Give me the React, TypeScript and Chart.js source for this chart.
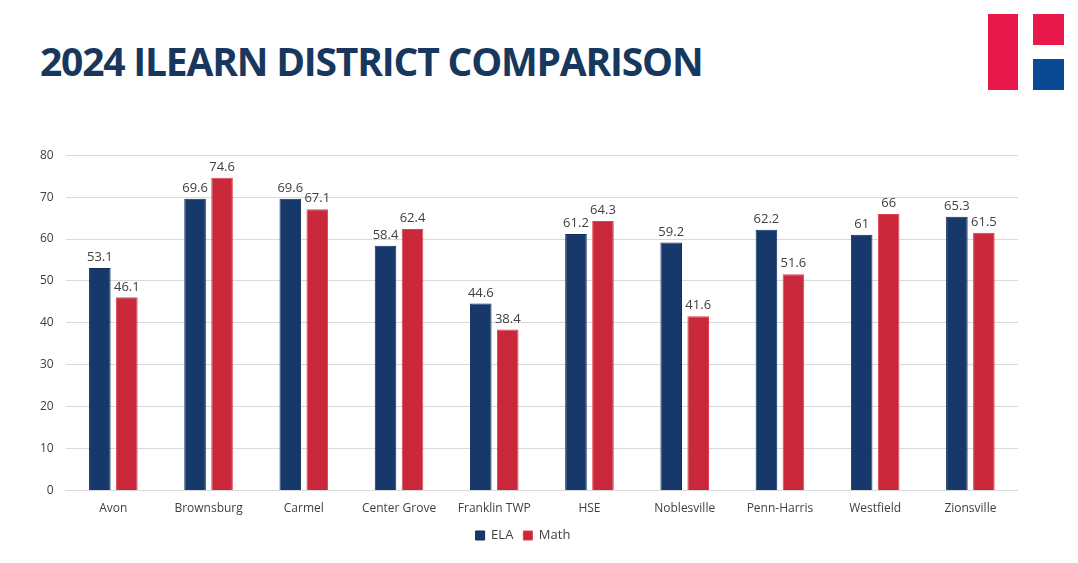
import React, { useEffect, useRef } from "react";
import { Chart, registerables } from "chart.js";

Chart.register(...registerables);

const categories = ["Avon", "Brownsburg", "Carmel", "Center Grove", "Franklin TWP", "HSE", "Noblesville", "Penn-Harris", "Westfield", "Zionsville"];
const elaValues = [53.1, 69.6, 69.6, 58.4, 44.6, 61.2, 59.2, 62.2, 61, 65.3];
const mathValues = [46.1, 74.6, 67.1, 62.4, 38.4, 64.3, 41.6, 51.6, 66, 61.5];
const yTicks = [0, 10, 20, 30, 40, 50, 60, 70, 80];

const FONT = "'Open Sans', 'Noto Sans', sans-serif";

const labelPlugin = {
  id: "barLabels",
  afterDatasetsDraw(chart: any) {
    const ctx = chart.ctx;
    ctx.save();
    ctx.font = `13px ${FONT}`;
    ctx.fillStyle = "#404040";
    ctx.textAlign = "center";
    ctx.textBaseline = "bottom";
    chart.data.datasets.forEach((ds: any, i: number) => {
      const meta = chart.getDatasetMeta(i);
      meta.data.forEach((bar: any, j: number) => {
        ctx.fillText(String(ds.data[j]), bar.x, bar.y - 4);
      });
    });
    ctx.restore();
  },
};

export default function App() {
  const ref = useRef<HTMLCanvasElement | null>(null);
  useEffect(() => {
    document.body.style.margin = "0";
    const chart = new Chart(ref.current!, {
      type: "bar",
      data: {
        labels: categories,
        datasets: [
          { label: "ELA", data: elaValues, backgroundColor: "#17386B", borderColor: "#0F2C5A", borderWidth: 1 },
          { label: "Math", data: mathValues, backgroundColor: "#C82839", borderColor: "#E04050", borderWidth: 1 },
        ],
      },
      options: {
        responsive: false,
        animation: false,
        maintainAspectRatio: false,
        datasets: { bar: { categoryPercentage: 0.567, barPercentage: 0.8 } },
        layout: { padding: { top: 6, right: 0, left: 0, bottom: 0 } },
        scales: {
          x: {
            grid: { display: false },
            border: { color: "#D9D9D9" },
            ticks: { color: "#404040", font: { family: FONT, size: 12 }, padding: 3 },
          },
          y: {
            min: 0,
            max: 80,
            afterBuildTicks: (axis: any) => {
              axis.ticks = yTicks.map((v) => ({ value: v }));
            },
            grid: { color: "#D9D9D9", drawTicks: false },
            border: { display: false },
            ticks: { color: "#404040", font: { family: FONT, size: 12 }, padding: 12 },
          },
        },
        plugins: {
          legend: {
            position: "bottom",
            labels: { boxWidth: 9, boxHeight: 9, color: "#404040", font: { family: FONT, size: 13 }, padding: 10 },
          },
          tooltip: { enabled: false },
        },
      },
      plugins: [labelPlugin],
    });
    return () => chart.destroy();
  }, []);

  return (
    <div style={{ position: "relative", width: 1078, height: 563, background: "#fff", overflow: "hidden" }}>
      <div
        style={{
          position: "absolute",
          left: 40,
          top: 37,
          fontFamily: "'Open Sans', sans-serif",
          fontWeight: 700,
          fontSize: 39,
          letterSpacing: -1.2,
          color: "#17375E",
          whiteSpace: "nowrap",
          lineHeight: "48px",
        }}
      >
        2024 ILEARN DISTRICT COMPARISON
      </div>
      <div style={{ position: "absolute", left: 988, top: 14, width: 30, height: 76, background: "#E8194A" }} />
      <div style={{ position: "absolute", left: 1033, top: 14, width: 31, height: 31, background: "#E8194A" }} />
      <div style={{ position: "absolute", left: 1033, top: 59, width: 31, height: 31, background: "#0A4A94" }} />
      <canvas ref={ref} width={990} height={416} style={{ position: "absolute", left: 28, top: 136, width: 990, height: 416 }} />
    </div>
  );
}
